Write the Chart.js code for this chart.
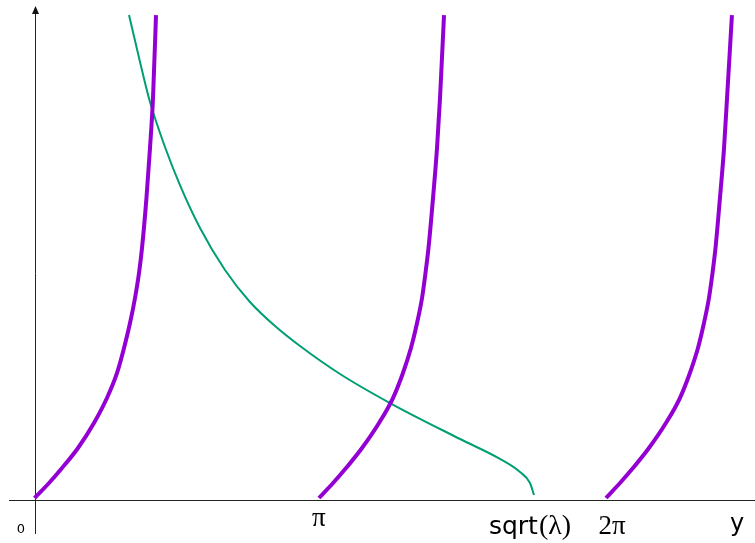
<!DOCTYPE html>
<html>
<head>
<meta charset="utf-8">
<script src="https://cdn.jsdelivr.net/npm/chart.js@4.4.1/dist/chart.umd.min.js"></script>
<style>
  body { margin: 0; background: #fff; }
  canvas { display: block; }
</style>
</head>
<body>
<canvas id="myChart" width="755" height="543"></canvas>
<script>
// tan branches, x = y-variable, value = curve height
let branch1X = [0.000, 0.160, 0.303, 0.479, 0.655, 0.798, 0.909, 0.986, 1.052, 1.107, 1.151, 1.184, 1.233, 1.272, 1.305, 1.338]
let branch1Y = [0.022, 0.187, 0.352, 0.573, 0.848, 1.123, 1.399, 1.674, 1.949, 2.225, 2.500, 2.775, 3.326, 3.877, 4.427, 5.341]

let branch2X = [3.133, 3.288, 3.431, 3.607, 3.794, 3.948, 4.058, 4.146, 4.213, 4.268, 4.306, 4.339, 4.389, 4.433, 4.466, 4.510]
let branch2Y = [0.022, 0.187, 0.352, 0.573, 0.848, 1.123, 1.399, 1.674, 1.949, 2.225, 2.500, 2.775, 3.326, 3.877, 4.427, 5.341]

let branch3X = [6.294, 6.448, 6.591, 6.767, 6.954, 7.108, 7.218, 7.307, 7.373, 7.428, 7.467, 7.500, 7.549, 7.594, 7.627, 7.681]
let branch3Y = [0.022, 0.187, 0.352, 0.573, 0.848, 1.123, 1.399, 1.674, 1.949, 2.225, 2.500, 2.775, 3.326, 3.877, 4.427, 5.341]

// the sqrt curve, ends on the axis at sqrt(lambda)
let greenX = [1.041, 1.162, 1.272, 1.437, 1.602, 1.823, 2.098, 2.373, 2.649, 2.924, 3.365, 3.915, 4.686, 5.127, 5.347, 5.457, 5.501]
let greenY = [5.341, 4.824, 4.383, 3.888, 3.469, 2.996, 2.533, 2.181, 1.916, 1.696, 1.388, 1.068, 0.672, 0.452, 0.308, 0.187, 0.055]

// x axis labels
let tickValues = [3.1416, 5.50, 6.2832]
let tickNames = ['π', 'sqrt', '2π']

function pts(xs, ys) {
  return xs.map((x, i) => ({ x: x, y: ys[i] }))
}

const purple = '#9400d3'
const green = '#009e73'

// axes + labels drawn by hand (gnuplot style: plain axes, arrow on y)
const axesPlugin = {
  id: 'axesPlugin',
  beforeDatasetsDraw(chart) {
    const c = chart.ctx
    const xs = chart.scales.x
    const ys = chart.scales.y
    const x0 = Math.round(xs.getPixelForValue(0)) + 0.5
    const y0 = Math.round(ys.getPixelForValue(0)) + 0.5
    c.save()
    c.strokeStyle = '#222'
    c.lineWidth = 1
    c.beginPath()
    c.moveTo(9, y0)
    c.lineTo(755, y0)
    c.moveTo(x0, 534)
    c.lineTo(x0, 13)
    c.stroke()
    c.fillStyle = '#111'
    c.beginPath()
    c.moveTo(x0, 6)
    c.lineTo(x0 - 3.5, 14)
    c.lineTo(x0 + 3.5, 14)
    c.closePath()
    c.fill()
    c.restore()
  },
  afterDatasetsDraw(chart) {
    const c = chart.ctx
    const xs = chart.scales.x
    c.save()
    c.fillStyle = '#000'
    c.textBaseline = 'middle'
    c.textAlign = 'center'
    c.font = '13px "DejaVu Sans"'
    c.fillText('0', 21, 530)
    // pi
    c.font = '27px "Liberation Serif"'
    c.fillText(tickNames[0], xs.getPixelForValue(tickValues[0]) - 1, 519)
    // sqrt(lambda)
    let sx = xs.getPixelForValue(tickValues[1])
    c.font = '25px "DejaVu Sans"'
    let w1 = c.measureText('sqrt').width
    let left = sx - 45
    c.textAlign = 'left'
    c.fillText('sqrt', left, 527)
    c.font = '28px "Liberation Serif"'
    c.fillText('(λ)', left + w1 + 1, 527)
    // 2pi
    c.textAlign = 'center'
    c.font = '27px "Liberation Serif"'
    c.fillText(tickNames[2], xs.getPixelForValue(tickValues[2]) + 7, 527)
    c.font = '24px "DejaVu Sans"'
    c.fillText('y', 737, 525)
    c.restore()
  }
}

const ctx = document.getElementById('myChart')

let chart_main = new Chart(ctx, {
  type: 'scatter',
  data: {
    datasets: [
      { data: pts(branch1X, branch1Y), borderColor: purple, borderWidth: 4 },
      { data: pts(branch2X, branch2Y), borderColor: purple, borderWidth: 4 },
      { data: pts(branch3X, branch3Y), borderColor: purple, borderWidth: 4 },
      { data: pts(greenX, greenY), borderColor: green, borderWidth: 2 }
    ]
  },
  options: {
    responsive: false,
    animation: false,
    showLine: true,
    elements: {
      point: { radius: 0, hoverRadius: 0 },
      line: { cubicInterpolationMode: 'monotone', fill: false }
    },
    layout: { padding: 0 },
    plugins: {
      legend: { display: false },
      tooltip: { enabled: false }
    },
    scales: {
      x: { type: 'linear', display: false, min: -0.380, max: 7.935 },
      y: { type: 'linear', display: false, min: -0.4736, max: 5.507 }
    }
  },
  plugins: [axesPlugin]
});
</script>
</body>
</html>
